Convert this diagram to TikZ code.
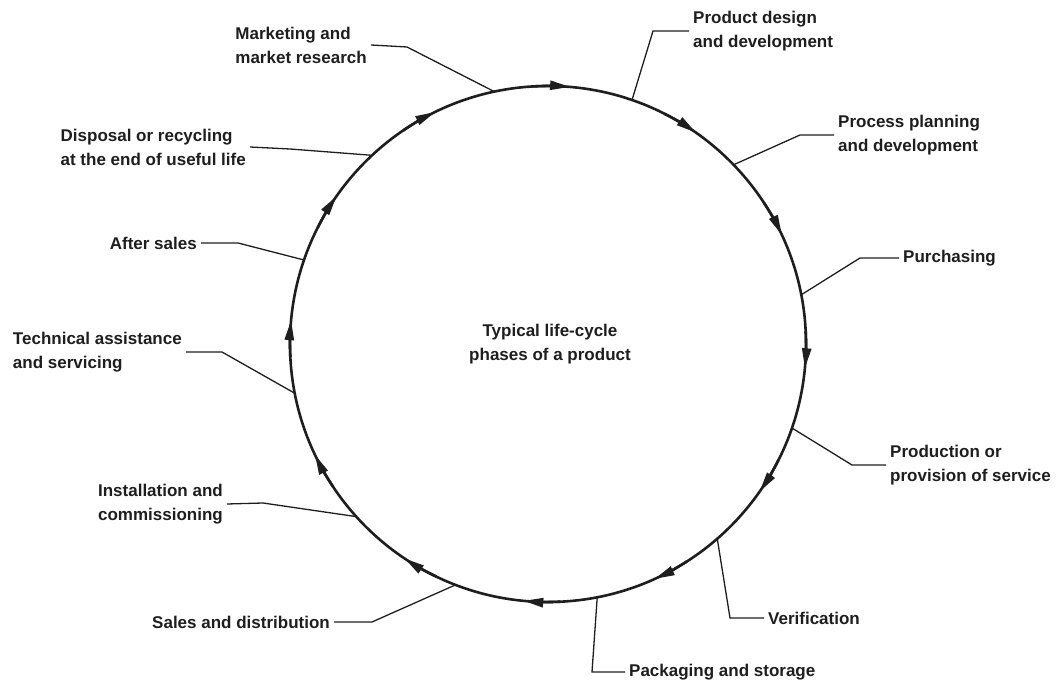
\documentclass[tikz,border=0pt]{standalone}
\usepackage{fontspec}
\setmainfont{Liberation Sans}
\usetikzlibrary{arrows.meta}
\definecolor{ink}{HTML}{1E1E1E}
\tikzset{
  ring/.style={draw=ink, line width=2.6pt, circle, minimum size=516pt, inner sep=0pt, outer sep=0pt},
  phase/.style={text=ink, align=left, inner sep=4pt, font=\fontsize{17pt}{24pt}\selectfont\bfseries},
  leader/.style={draw=ink, line width=1.3pt},
  flow/.style={-{Triangle[length=20pt, width=9pt]}, ink, line width=2.6pt},
}

\begin{document}
\begin{tikzpicture}[x=1pt, y=1pt]
  \useasboundingbox (0,0) rectangle (1057,688);

  \node[ring] (cyc) at (548,344) {};
  \node[phase, align=center] (mid) at (550,344) {Typical life-cycle\\phases of a product};

  % phases, right half
  \node[phase, anchor=east] (p1) at (371,643) {Marketing and\\market research};
  \node[phase, anchor=west] (p2) at (689,657) {Product design\\and development};
  \node[phase, anchor=west] (p3) at (834,553) {Process planning\\and development};
  \node[phase, anchor=west] (p4) at (899,430) {Purchasing};
  \node[phase, anchor=west] (p5) at (886,223) {Production or\\provision of service};
  \node[phase, anchor=west] (p6) at (764,70) {Verification};
  \node[phase, anchor=west] (p7) at (625,16) {Packaging and storage};
  % phases, left half
  \node[phase, anchor=east] (p8) at (334,66) {Sales and distribution};
  \node[phase, anchor=east] (p9) at (227,184) {Installation and\\commissioning};
  \node[phase, anchor=east] (p10) at (186,336) {Technical assistance\\and servicing};
  \node[phase, anchor=east] (p11) at (201,445) {After sales};
  \node[phase, anchor=east] (p12) at (250,541) {Disposal or recycling\\at the end of useful life};

  % kinks of the leaders
  \coordinate (k1) at (407,641);
  \coordinate (k2) at (653,657);
  \coordinate (k3) at (800,553);
  \coordinate (k4) at (860,430);
  \coordinate (k5) at (852,223);
  \coordinate (k6) at (730,70);
  \coordinate (k7) at (592,16);
  \coordinate (k8) at (372,66);
  \coordinate (k9) at (263,185);
  \coordinate (k10) at (222,336);
  \coordinate (k11) at (238,445);
  \coordinate (k12) at (290,539);

  \draw[leader] (cyc.102.3) -- (k1) -- (p1.east);
  \draw[leader] (cyc.71.4) -- (k2) -- (p2.west);
  \draw[leader] (cyc.44.5) -- (k3) -- (p3.west);
  \draw[leader] (cyc.11.9) -- (k4) -- (p4.west);
  \draw[leader] (cyc.-19.7) -- (k5) -- (p5.west);
  \draw[leader] (cyc.-49.7) -- (k6) -- (p6.west);
  \draw[leader] (cyc.-79.6) -- (k7) -- (p7.west);
  \draw[leader] (cyc.-111.2) -- (k8) -- (p8.east);
  \draw[leader] (cyc.-138.6) -- (k9) -- (p9.east);
  \draw[leader] (cyc.-169) -- (k10) -- (p10.east);
  \draw[leader] (cyc.161.1) -- (k11) -- (p11.east);
  \draw[leader] (cyc.133.1) -- (k12) -- (p12.east);

  % clockwise arrows on the ring
  \foreach \a in {87.3,57.2,27.2,-3.2,-32.7,-63.4,-93.3,-121.6,-152.4,176.9,147.2,118.1}
    \draw[flow] (cyc.center) ++(\a+6:258) arc[start angle=\a+6, end angle=\a-2.2, radius=258];
\end{tikzpicture}
\end{document}
